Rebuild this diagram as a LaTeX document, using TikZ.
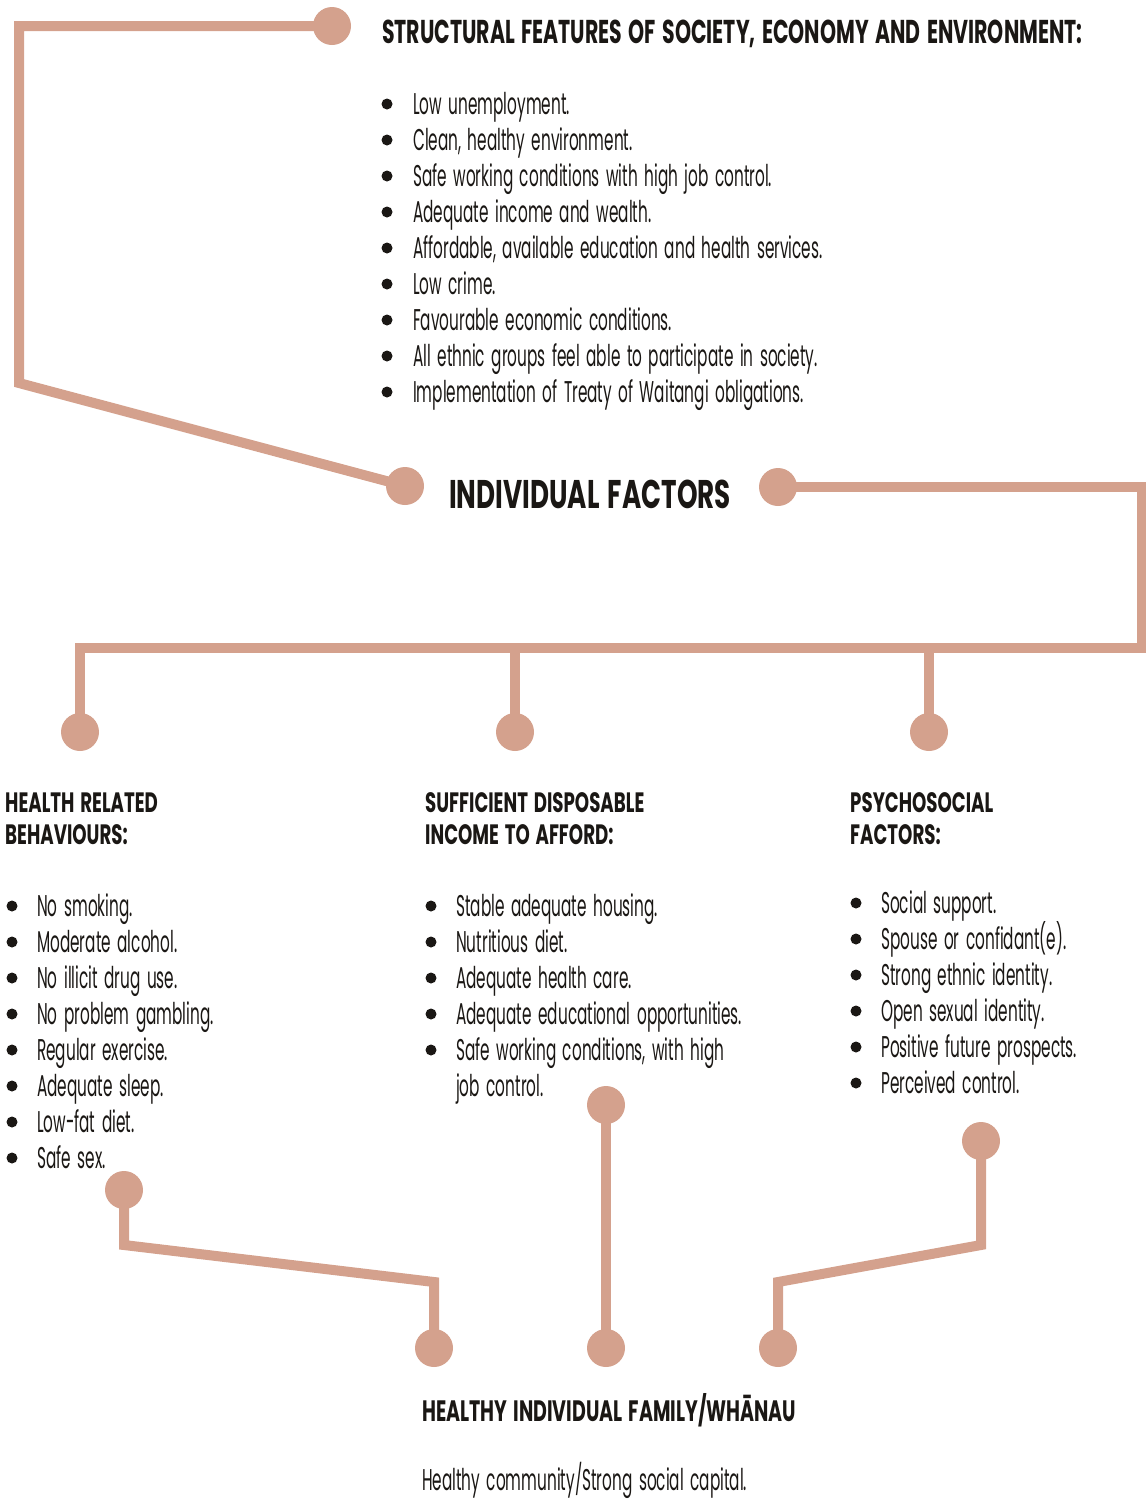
\documentclass[tikz,border=0pt]{standalone}
\usepackage{fontspec}
\newfontfamily\bodyf{Poppins}[FakeStretch=0.51,WordSpace=1.6]
\newfontfamily\headf{Poppins}[FakeStretch=0.62,WordSpace=1.5]
\newfontfamily\colf{Poppins}[FakeStretch=0.65,WordSpace=1.5]
\newfontfamily\bigf{Poppins}[FakeStretch=0.655,WordSpace=1.5]
\newfontfamily\botf{Poppins}[FakeStretch=0.645,WordSpace=1.5]
\definecolor{linkc}{RGB}{212,161,141}
\definecolor{ink}{RGB}{26,23,20}
\pgfdeclarelayer{bg}
\pgfsetlayers{bg,main}
\tikzset{
  conn/.style={draw=linkc, line width=10pt},
  dot/.style={circle, fill=linkc, minimum size=38pt, inner sep=0pt},
  body/.style={anchor=base west, inner sep=0pt, text=ink, font=\bodyf\fontsize{30}{36}\selectfont},
  title/.style={anchor=base west, inner sep=0pt, text=ink, font=\headf\bfseries\fontsize{33}{40}\selectfont},
  bigtitle/.style={anchor=base west, inner sep=0pt, text=ink, font=\bigf\bfseries\fontsize{40}{48}\selectfont},
  colhead/.style={anchor=base west, inner sep=0pt, text=ink, font=\colf\bfseries\fontsize{28}{32}\selectfont},
  bothead/.style={anchor=base west, inner sep=0pt, text=ink, font=\botf\bfseries\fontsize{29.5}{34}\selectfont},
  bul/.style={fill=ink}
}
\begin{document}
\begin{tikzpicture}[x=1pt,y=-1pt]
\useasboundingbox (0,0) rectangle (1146,1500);
% connector dots
\node[dot] (dTop) at (332,26) {};
\node[dot] (dIndL) at (405,486) {};
\node[dot] (dIndR) at (778,487) {};
\node[dot] (dHB) at (80,732) {};
\node[dot] (dInc) at (515,732) {};
\node[dot] (dPsy) at (929,732) {};
\node[dot] (dHBo) at (124,1190) {};
\node[dot] (dInco) at (606,1105) {};
\node[dot] (dPsyo) at (981,1141) {};
\node[dot] (dW1) at (434,1348) {};
\node[dot] (dW2) at (606,1348) {};
\node[dot] (dW3) at (778,1348) {};
\coordinate (k1) at (19,383);
\coordinate (k2) at (1142,648);
\coordinate (k3) at (124,1245);
\coordinate (k4) at (434,1282);
\coordinate (k5) at (981,1245);
\coordinate (k6) at (778,1282);
\begin{pgfonlayer}{bg}
\draw[conn] (dTop.center) -| (k1) -- (dIndL.center);
\draw[conn] (dIndR.center) -| (k2) -| (dHB.center);
\draw[conn] (dInc.center) -- (dInc.center |- k2);
\draw[conn] (dPsy.center) -- (dPsy.center |- k2);
\draw[conn] (dHBo.center) -- (k3) -- (k4) -- (dW1.center);
\draw[conn] (dInco.center) -- (dW2.center);
\draw[conn] (dPsyo.center) -- (k5) -- (k6) -- (dW3.center);
\end{pgfonlayer}
% titles
\node[title] (tStruct) at (382,43) {STRUCTURAL FEATURES OF SOCIETY, ECONOMY AND ENVIRONMENT:};
\node[bigtitle] (tInd) at (449,508) {INDIVIDUAL FACTORS};
% structural list
\foreach \t [count=\i from 0] in {Low unemployment., {Clean, healthy environment.}, Safe working conditions with high job control., Adequate income and wealth., {Affordable, available education and health services.}, Low crime., Favourable economic conditions., All ethnic groups feel able to participate in society., Implementation of Treaty of Waitangi obligations.} {
  \fill[bul] (387,104+36*\i) circle (5.5);
  \node[body] (s\i) at (413,114+36*\i) {\t};
}
% column headings
\node[colhead] (hA1) at (5,812) {HEALTH RELATED};
\node[colhead] (hA2) at (5,844) {BEHAVIOURS:};
\node[colhead] (hB1) at (425,812) {SUFFICIENT DISPOSABLE};
\node[colhead] (hB2) at (425,844) {INCOME TO AFFORD:};
\node[colhead] (hC1) at (850,812) {PSYCHOSOCIAL};
\node[colhead] (hC2) at (850,844) {FACTORS:};
% left list
\foreach \t [count=\i from 0] in {No smoking., Moderate alcohol., No illicit drug use., No problem gambling., Regular exercise., Adequate sleep., Low-fat diet., Safe sex.} {
  \fill[bul] (12,906+36*\i) circle (5.5);
  \node[body] (a\i) at (37,916+36*\i) {\t};
}
% middle list
\foreach \t [count=\i from 0] in {Stable adequate housing., Nutritious diet., Adequate health care., Adequate educational opportunities., {Safe working conditions, with high}} {
  \fill[bul] (431,906+36*\i) circle (5.5);
  \node[body] (b\i) at (456,916+36*\i) {\t};
}
\node[body] (b5) at (456,1096) {job control.};
% right list
\foreach \t [count=\i from 0] in {Social support., Spouse or confidant(e)., Strong ethnic identity., Open sexual identity., Positive future prospects., Perceived control.} {
  \fill[bul] (856,903+36*\i) circle (5.5);
  \node[body] (c\i) at (881,913+36*\i) {\t};
}
% bottom
\node[bothead] (tW) at (422,1421) {HEALTHY INDIVIDUAL FAMILY/WHĀNAU};
\node[body] (tC) at (422,1490) {Healthy community/Strong social capital.};
\end{tikzpicture}
\end{document}
